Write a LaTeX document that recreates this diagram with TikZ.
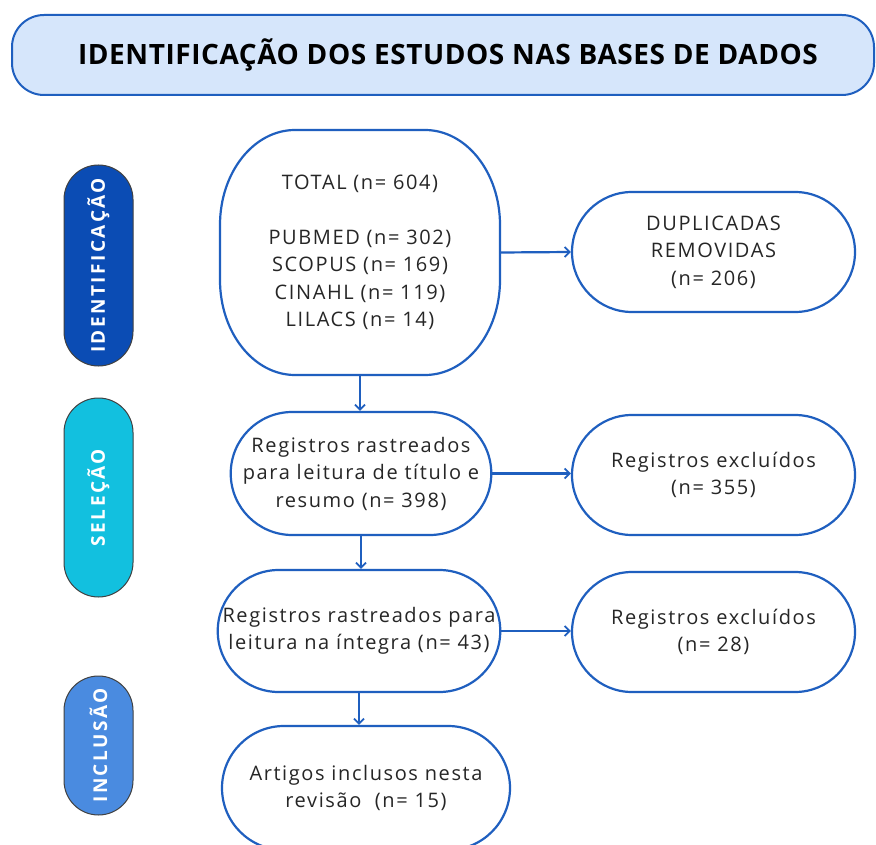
\documentclass[tikz,border=0pt]{standalone}
\usepackage{fontspec}
\setmainfont{Open Sans}[LetterSpace=8]
\newfontfamily\titlefont{Open Sans}[LetterSpace=2]
\newfontfamily\pillfont{Open Sans}[LetterSpace=13]
\usetikzlibrary{arrows.meta,shapes.misc}
\definecolor{lineblue}{HTML}{1F5FBF}
\definecolor{titlefill}{HTML}{D6E6FB}
\definecolor{identfill}{HTML}{0B4CB4}
\definecolor{selfill}{HTML}{12C0DF}
\definecolor{inclfill}{HTML}{4A8BE0}
\definecolor{txt}{HTML}{262626}
\tikzset{
  boxtext/.style={text=txt, align=center, inner sep=0pt, font=\fontsize{20}{27.5}\selectfont},
  outline/.style={draw=lineblue, line width=2.2pt},
  stadium/.style={boxtext, outline, fill=white, rounded rectangle,
    rounded rectangle arc length=180},
  pill/.style={draw=black!75, line width=1pt, rounded rectangle, rounded rectangle arc length=180,
    rotate=90, minimum height=69pt, inner sep=0pt},
  pilltext/.style={rotate=90, text=white, font=\pillfont\bfseries\fontsize{19}{22}\selectfont},
  conn/.style={draw=lineblue, line width=2.2pt, -{Straight Barb[length=5pt,width=10pt,line width=1.8pt]}}
}
\begin{document}
\begin{tikzpicture}[x=1pt,y=-1pt]
\useasboundingbox (0,0) rectangle (876,845);
\fill[white] (0,0) rectangle (876,845);
% title
\node[draw=lineblue, line width=2pt, fill=titlefill, rounded corners=32pt,
  minimum width=862pt, minimum height=80pt, inner sep=0pt] (title) at (443,55) {};
\node[font=\titlefont\bfseries\fontsize{28}{32}\selectfont, text=black, inner sep=0pt] (titletext) at (448,55)
  {IDENTIFICAÇÃO DOS ESTUDOS NAS BASES DE DADOS};
% side pills
\node[pill, fill=identfill, minimum width=201pt] (pident) at (98.5,265.5) {};
\node[pilltext] (tident) at (pident.center) {IDENTIFICAÇÃO};
\node[pill, fill=selfill, minimum width=199pt] (psel) at (98.5,497.5) {};
\node[pilltext] (tsel) at (psel.center) {SELEÇÃO};
\node[pill, fill=inclfill, minimum width=139pt] (pincl) at (98.5,745.5) {};
\node[pilltext] (tincl) at (pincl.center) {INCLUSÃO};
% total box (very rounded, elliptical corners)
\draw[outline] (295,130) -- (425,130) .. controls (466.4,130) and (500,172.5) .. (500,225)
  -- (500,280) .. controls (500,332.5) and (466.4,375) .. (425,375)
  -- (295,375) .. controls (253.6,375) and (220,332.5) .. (220,280)
  -- (220,225) .. controls (220,172.5) and (253.6,130) .. (295,130) -- cycle;
\node[boxtext, minimum width=280pt, minimum height=245pt] (total) at (360,252.5)
  {TOTAL (n= 604)\\[27.5pt]PUBMED (n= 302)\\SCOPUS (n= 169)\\CINAHL (n= 119)\\LILACS (n= 14)};
% other boxes
\node[stadium, minimum width=283pt, minimum height=120pt] (dup) at (713.5,252)
  {DUPLICADAS\\REMOVIDAS\\(n= 206)};
\node[stadium, minimum width=258pt, minimum height=123pt] (r1) at (361,473.5)
  {Registros rastreados\\para leitura de título e\\resumo (n= 398)};
\node[stadium, minimum width=283pt, minimum height=120pt] (ex1) at (713.5,475)
  {Registros excluídos\\(n= 355)};
\node[stadium, minimum width=282pt, minimum height=122pt] (r2) at (359,631)
  {Registros rastreados para\\leitura na íntegra (n= 43)};
\node[stadium, minimum width=283pt, minimum height=120pt] (ex2) at (713.5,632)
  {Registros excluídos\\(n= 28)};
\node[stadium, minimum width=288pt, minimum height=124pt] (art) at (366,788)
  {Artigos inclusos nesta\\revisão\ \ (n= 15)};
% connectors
\draw[conn] (total.south) -- (total.south |- r1.north);
\draw[conn] (total.east) -- (dup.west);
\draw[conn] (r1.east) -- (r1.east -| ex1.west);
\draw[conn] (r1.south) -- (r1.south |- r2.north);
\draw[conn] (r2.east) -- (r2.east -| ex2.west);
\draw[conn] (r2.south) -- (r2.south |- art.north);
\end{tikzpicture}
\end{document}
